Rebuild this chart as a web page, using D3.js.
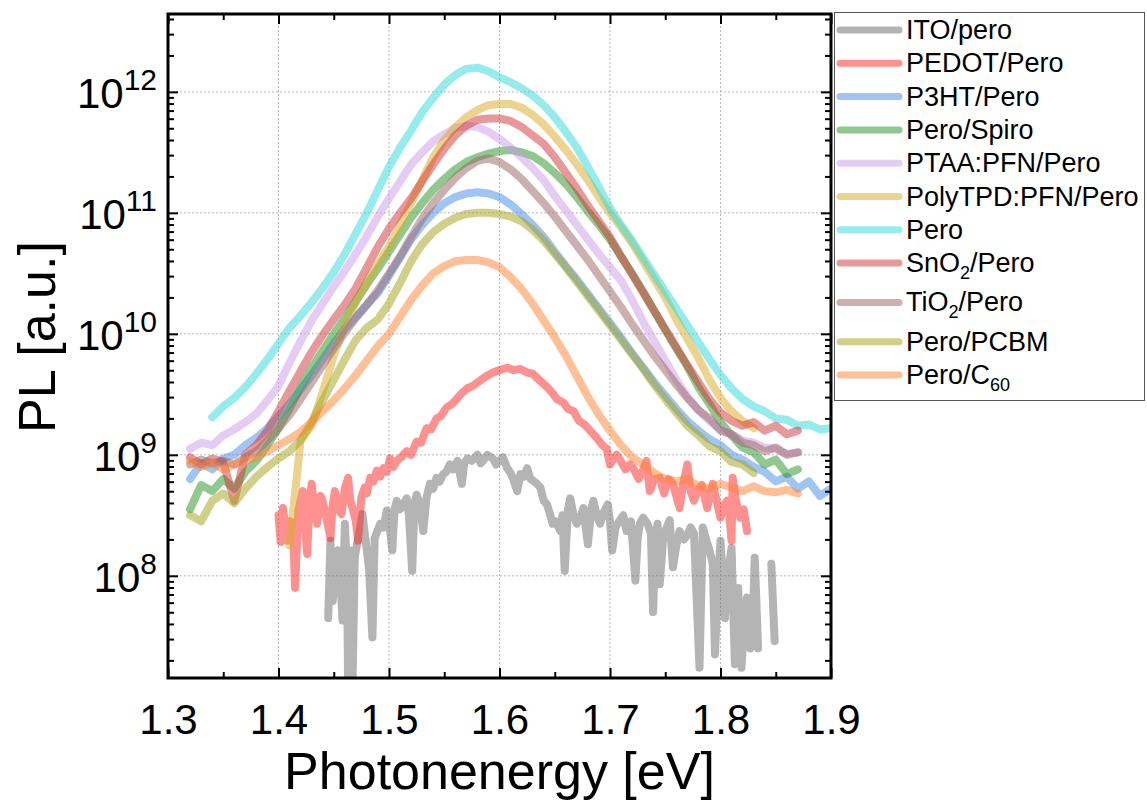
<!DOCTYPE html>
<html>
<head>
<meta charset="utf-8">
<script src="https://cdnjs.cloudflare.com/ajax/libs/d3/7.8.5/d3.min.js"></script>
<style>
body { margin: 0; background: #fff; }
svg { font-family: "Liberation Sans", Arial, sans-serif; }
</style>
</head>
<body>
<script>
// photon energy grid (eV) used by the smooth spectra
var energy = [1.32, 1.33, 1.34, 1.35, 1.36, 1.37, 1.38, 1.39, 1.40, 1.41,
  1.42, 1.43, 1.44, 1.45, 1.46, 1.47, 1.48, 1.49, 1.50, 1.51,
  1.52, 1.53, 1.54, 1.55, 1.56, 1.57, 1.58, 1.59, 1.60, 1.61,
  1.62, 1.63, 1.64, 1.65, 1.66, 1.67, 1.68, 1.69, 1.70, 1.71,
  1.72, 1.73, 1.74, 1.75, 1.76, 1.77, 1.78, 1.79, 1.80, 1.81,
  1.82, 1.83, 1.84, 1.85, 1.86, 1.87, 1.88, 1.89, 1.90];

// PL, stored as log10(PL); null = no data at that energy
var p3ht = [8.80, 8.93, 8.88, 8.97, 9.00, 9.08, 9.14, 9.22, 9.32, 9.42,
  9.54, 9.66, 9.79, 9.92, 10.04, 10.14, 10.24, 10.34, 10.48, 10.63,
  10.78, 10.90, 11.00, 11.08, 11.13, 11.16, 11.17, 11.16, 11.13, 11.07,
  10.99, 10.90, 10.80, 10.68, 10.56, 10.45, 10.33, 10.21, 10.09, 9.97,
  9.84, 9.72, 9.60, 9.49, 9.38, 9.28, 9.20, 9.13, 9.08, 9.00,
  8.96, 8.90, 8.86, 8.78, 8.82, 8.72, 8.78, 8.66, 8.72];
var spiro = [8.55, 8.75, 8.70, 8.80, 8.72, 8.86, 8.95, 9.08, 9.22, 9.38,
  9.56, 9.72, 9.86, 10.00, 10.13, 10.27, 10.41, 10.54, 10.68, 10.82,
  10.96, 11.08, 11.19, 11.28, 11.36, 11.42, 11.46, 11.49, 11.51, 11.52,
  11.50, 11.47, 11.41, 11.33, 11.24, 11.13, 11.01, 10.90, 10.78, 10.64,
  10.50, 10.35, 10.19, 10.03, 9.88, 9.73, 9.56, 9.42, 9.27, 9.16,
  9.06, 9.02, 8.92, 8.96, 8.84, 8.88, null, null, null];
var ptaa = [9.05, 9.10, 9.08, 9.16, 9.21, 9.27, 9.34, 9.45, 9.57, 9.76,
  9.94, 10.11, 10.25, 10.39, 10.52, 10.66, 10.81, 10.97, 11.12, 11.26,
  11.40, 11.50, 11.59, 11.65, 11.70, 11.72, 11.71, 11.67, 11.61, 11.54,
  11.46, 11.37, 11.27, 11.14, 11.02, 10.90, 10.78, 10.66, 10.55, 10.44,
  10.28, 10.10, 9.94, 9.78, 9.62, 9.48, 9.37, 9.28, 9.21, 9.17,
  9.12, 9.10, 9.06, 9.05, 9.01, 9.02, null, null, null];
var polyTPD = [null, null, null, null, null, null, null, null, null, 8.25,
  9.12, 9.24, 9.52, 9.82, 10.07, 10.26, 10.43, 10.58, 10.72, 10.90,
  11.08, 11.27, 11.46, 11.60, 11.71, 11.79, 11.85, 11.89, 11.90, 11.90,
  11.87, 11.81, 11.73, 11.63, 11.52, 11.40, 11.27, 11.13, 11.00, 10.88,
  10.75, 10.60, 10.45, 10.30, 10.12, 9.96, 9.80, 9.62, 9.47, 9.36,
  9.28, 9.22, null, null, null, null, null, null, null];
var pero = [null, null, 9.31, 9.40, 9.47, 9.56, 9.67, 9.79, 9.92, 10.05,
  10.15, 10.26, 10.38, 10.51, 10.66, 10.83, 11.00, 11.19, 11.38, 11.54,
  11.68, 11.83, 11.95, 12.06, 12.14, 12.19, 12.20, 12.17, 12.12, 12.08,
  12.03, 11.97, 11.89, 11.79, 11.67, 11.54, 11.38, 11.21, 11.04, 10.90,
  10.77, 10.63, 10.49, 10.35, 10.21, 10.07, 9.93, 9.79, 9.66, 9.55,
  9.46, 9.40, 9.36, 9.30, 9.29, 9.24, 9.25, 9.21, 9.22];
var snO2 = [8.98, 8.92, 8.97, 8.94, 8.62, 9.00, 9.08, 9.20, 9.36, 9.53,
  9.69, 9.85, 9.99, 10.12, 10.24, 10.38, 10.55, 10.72, 10.87, 11.00,
  11.12, 11.26, 11.40, 11.53, 11.64, 11.72, 11.77, 11.78, 11.78, 11.76,
  11.71, 11.64, 11.57, 11.46, 11.33, 11.20, 11.06, 10.93, 10.80, 10.64,
  10.49, 10.34, 10.19, 10.04, 9.89, 9.74, 9.60, 9.46, 9.35, 9.28,
  9.24, 9.27, 9.20, 9.24, 9.17, 9.20, null, null, null];
var tiO2 = [8.92, 8.96, 8.93, 8.95, 8.92, 8.98, 9.03, 9.12, 9.22, 9.33,
  9.46, 9.60, 9.74, 9.88, 10.01, 10.13, 10.24, 10.36, 10.50, 10.64,
  10.80, 10.95, 11.08, 11.19, 11.29, 11.37, 11.43, 11.45, 11.42, 11.36,
  11.28, 11.18, 11.08, 10.97, 10.85, 10.73, 10.61, 10.48, 10.35, 10.22,
  10.08, 9.95, 9.82, 9.70, 9.58, 9.47, 9.37, 9.30, 9.20, 9.17,
  9.10, 9.08, 9.03, 9.06, 9.00, 9.02, null, null, null];
var pcbm = [8.50, 8.45, 8.62, 8.68, 8.60, 8.72, 8.82, 8.90, 8.97, 9.03,
  9.12, 9.27, 9.45, 9.62, 9.79, 9.95, 10.05, 10.12, 10.25, 10.42,
  10.60, 10.74, 10.84, 10.91, 10.96, 10.99, 11.00, 11.00, 10.99, 10.97,
  10.93, 10.86, 10.77, 10.66, 10.55, 10.43, 10.31, 10.19, 10.07, 9.95,
  9.83, 9.71, 9.58, 9.46, 9.35, 9.24, 9.16, 9.07, 9.03, 8.94,
  8.92, 8.85, null, null, null, null, null, null, null];
var c60 = [8.95, 8.90, 8.93, 8.88, 8.92, 8.95, 8.98, 9.03, 9.08, 9.13,
  9.19, 9.27, 9.36, 9.45, 9.55, 9.66, 9.78, 9.90, 10.00, 10.14,
  10.28, 10.40, 10.50, 10.56, 10.60, 10.61, 10.61, 10.59, 10.55, 10.47,
  10.37, 10.25, 10.11, 9.97, 9.82, 9.65, 9.48, 9.33, 9.20, 9.08,
  8.98, 8.92, 8.85, 8.80, 8.78, 8.80, 8.74, 8.72, 8.76, 8.73,
  8.70, 8.74, 8.70, 8.69, 8.71, 8.68, null, null, null];

// noisy spectra: [energy eV, log10(PL)]
var pedot = [[1.400,8.50],[1.402,8.28],[1.404,8.56],[1.408,8.29],[1.411,8.45],[1.413,8.43],[1.415,7.90],[1.418,8.54],
  [1.422,8.70],[1.424,8.40],[1.426,8.18],[1.428,8.60],[1.430,8.76],[1.433,8.50],[1.435,8.43],[1.438,8.66],[1.440,8.62],
  [1.444,8.45],[1.447,8.31],[1.449,8.58],[1.451,8.70],[1.454,8.55],[1.457,8.51],[1.460,8.72],[1.463,8.81],[1.465,8.62],
  [1.467,8.56],[1.470,8.45],[1.472,8.29],[1.475,8.65],[1.478,8.73],[1.480,8.68],[1.483,8.81],[1.486,8.78],[1.489,8.87],
  [1.492,8.82],[1.495,8.89],[1.498,8.86],[1.501,8.97],[1.504,8.90],[1.507,8.95],[1.511,8.98],[1.516,9.03],[1.520,9.00],
  [1.525,9.11],[1.529,9.10],[1.534,9.22],[1.538,9.21],[1.543,9.30],[1.547,9.32],[1.552,9.39],[1.557,9.42],[1.562,9.47],
  [1.566,9.51],[1.571,9.55],[1.576,9.57],[1.582,9.61],[1.588,9.65],[1.594,9.68],[1.600,9.70],[1.607,9.72],[1.613,9.70],
  [1.619,9.71],[1.625,9.68],[1.630,9.67],[1.637,9.61],[1.643,9.56],[1.648,9.51],[1.652,9.46],[1.658,9.43],[1.662,9.38],
  [1.667,9.36],[1.672,9.28],[1.677,9.25],[1.682,9.20],[1.688,9.14],[1.693,9.08],[1.697,9.05],[1.700,8.92],[1.702,8.95],
  [1.706,9.00],[1.709,8.96],[1.714,8.88],[1.718,8.92],[1.721,8.89],[1.726,8.80],[1.730,8.88],[1.733,8.95],[1.736,8.70],
  [1.740,8.80],[1.745,8.81],[1.749,8.68],[1.753,8.80],[1.757,8.76],[1.760,8.66],[1.763,8.56],[1.766,8.75],[1.770,8.92],
  [1.773,8.70],[1.776,8.62],[1.779,8.70],[1.783,8.75],[1.788,8.56],[1.791,8.68],[1.793,8.76],[1.797,8.60],[1.800,8.48],
  [1.803,8.58],[1.806,8.62],[1.808,8.50],[1.810,8.29],[1.811,8.81],[1.814,8.62],[1.818,8.48],[1.821,8.55],[1.824,8.37]];
var ito = [[1.445,7.65],[1.447,8.29],[1.449,7.79],[1.452,8.10],[1.454,8.21],[1.456,7.95],[1.458,7.63],[1.460,8.43],
  [1.462,8.05],[1.463,7.10],[1.465,8.21],[1.467,7.10],[1.469,8.15],[1.471,8.26],[1.474,8.40],[1.476,8.51],[1.478,8.35],
  [1.480,8.21],[1.482,8.05],[1.485,7.49],[1.487,8.31],[1.490,8.38],[1.492,8.43],[1.495,8.40],[1.498,8.54],[1.500,8.45],
  [1.503,8.21],[1.505,8.55],[1.507,8.62],[1.510,8.55],[1.513,8.59],[1.516,8.64],[1.518,8.50],[1.521,8.04],[1.523,8.60],
  [1.525,8.67],[1.528,8.58],[1.531,8.37],[1.534,8.65],[1.537,8.76],[1.540,8.72],[1.543,8.81],[1.546,8.78],[1.549,8.84],
  [1.552,8.86],[1.555,8.92],[1.558,8.88],[1.562,8.95],[1.564,8.85],[1.566,8.76],[1.568,8.93],[1.571,8.97],[1.575,8.95],
  [1.580,9.00],[1.583,8.93],[1.585,8.95],[1.589,9.00],[1.594,8.97],[1.597,8.92],[1.600,8.95],[1.603,8.98],[1.607,8.89],
  [1.610,8.85],[1.612,8.81],[1.616,8.70],[1.619,8.84],[1.622,8.82],[1.625,8.89],[1.628,8.80],[1.630,8.79],[1.634,8.76],
  [1.637,8.73],[1.640,8.62],[1.643,8.59],[1.646,8.50],[1.648,8.43],[1.651,8.45],[1.655,8.37],[1.657,8.50],[1.659,8.04],
  [1.662,8.55],[1.664,8.64],[1.667,8.50],[1.670,8.43],[1.673,8.48],[1.676,8.56],[1.678,8.40],[1.680,8.26],[1.683,8.55],
  [1.685,8.62],[1.688,8.50],[1.691,8.43],[1.694,8.52],[1.698,8.59],[1.700,8.45],[1.702,8.21],[1.705,8.40],[1.709,8.46],
  [1.712,8.50],[1.715,8.37],[1.719,8.45],[1.723,7.96],[1.725,8.30],[1.727,8.43],[1.730,8.48],[1.734,8.43],[1.737,8.35],
  [1.739,7.70],[1.741,8.30],[1.743,8.43],[1.745,7.93],[1.748,8.30],[1.750,8.37],[1.754,8.46],[1.757,8.07],[1.760,8.25],
  [1.763,8.37],[1.767,8.30],[1.770,8.34],[1.773,8.40],[1.776,8.35],[1.781,7.24],[1.784,8.40],[1.787,8.30],[1.790,8.21],
  [1.793,8.10],[1.795,7.35],[1.798,8.00],[1.800,8.29],[1.802,8.00],[1.804,7.65],[1.807,8.05],[1.810,8.23],[1.813,7.27],
  [1.816,7.90],[1.819,7.24],[1.822,7.70],[1.824,7.82],[1.827,7.40],[1.829,7.55],[1.831,8.15],[1.834,7.40],[1.840,null],
  [1.846,8.10],[1.849,7.46]];

var labels = ["ITO/pero", "PEDOT/Pero", "P3HT/Pero", "Pero/Spiro", "PTAA:PFN/Pero", "PolyTPD:PFN/Pero",
  "Pero", "SnO_2/Pero", "TiO_2/Pero", "Pero/PCBM", "Pero/C_60"];
var colors = ["#6a6a6a", "#ff2222", "#4189e9", "#219121", "#c999e9", "#d9a921",
  "#2dd9d9", "#d13131", "#996161", "#a1a115", "#ff8131"];

var xMajor = [1.3, 1.4, 1.5, 1.6, 1.7, 1.8, 1.9];
var xMinor = [1.35, 1.45, 1.55, 1.65, 1.75, 1.85];
var yMajor = [1e8, 1e9, 1e10, 1e11, 1e12];

function onGrid(vals) { return energy.map(function(e, i) { return [e, vals[i]]; }); }
var curves = [ito, pedot, onGrid(p3ht), onGrid(spiro), onGrid(ptaa), onGrid(polyTPD),
  onGrid(pero), onGrid(snO2), onGrid(tiO2), onGrid(pcbm), onGrid(c60)];

var w = 1147, h = 805;
var pL = 168, pR = 831, pT = 14, pB = 678;

var svg = d3.select("body").append("svg").attr("width", w).attr("height", h);

var x = d3.scaleLinear().domain([1.3, 1.9]).range([pL, pR]);
var y = d3.scaleLog().domain([1.43e7, 4.4e12]).range([pB, pT]);

// minor ticks on the log axis: 2..9 x 10^n inside the domain
var yMinor = [];
for (var n = 7; n <= 12; n++) {
  for (var k = 2; k <= 9; k++) {
    var v = k * Math.pow(10, n);
    if (v > y.domain()[0] && v < y.domain()[1]) yMinor.push(v);
  }
}

// dotted grid
var grid = svg.append("g").attr("stroke", "#b8b8b8").attr("stroke-width", 1).attr("stroke-dasharray", "2,2");
grid.selectAll(".gx").data(xMajor.slice(1, -1)).enter().append("line")
  .attr("x1", function(d) { return x(d); }).attr("x2", function(d) { return x(d); })
  .attr("y1", pT).attr("y2", pB);
grid.selectAll(".gy").data(yMajor).enter().append("line")
  .attr("y1", function(d) { return y(d); }).attr("y2", function(d) { return y(d); })
  .attr("x1", pL).attr("x2", pR);

svg.append("clipPath").attr("id", "plot").append("rect")
  .attr("x", pL).attr("y", pT).attr("width", pR - pL).attr("height", pB - pT);

var line = d3.line()
  .defined(function(d) { return d[1] != null; })
  .x(function(d) { return x(d[0]); })
  .y(function(d) { return y(Math.pow(10, d[1])); });

svg.append("g").attr("clip-path", "url(#plot)")
  .selectAll("path").data(curves).enter().append("path")
  .attr("d", line)
  .attr("fill", "none")
  .attr("stroke", function(d, i) { return colors[i]; })
  .attr("stroke-opacity", 0.5)
  .attr("stroke-width", 8)
  .attr("stroke-linejoin", "round")
  .attr("stroke-linecap", "round");

// axes, ticks pointing inwards
function styleAxis(g) {
  g.select(".domain").remove();
  g.selectAll(".tick line").attr("stroke", "#000").attr("stroke-width", 2);
}
svg.append("g").attr("transform", "translate(0," + pB + ")")
  .call(d3.axisBottom(x).tickValues(xMajor).tickSize(-10).tickPadding(26).tickFormat(d3.format(".1f")))
  .call(styleAxis)
  .selectAll("text").attr("font-size", "42px").attr("fill", "#000")
  .attr("font-family", "Liberation Sans, Arial, sans-serif");
svg.append("g").attr("transform", "translate(0," + pB + ")")
  .call(d3.axisBottom(x).tickValues(xMinor).tickSize(-6).tickFormat("")).call(styleAxis);
svg.append("g").attr("transform", "translate(0," + pT + ")")
  .call(d3.axisTop(x).tickValues(xMajor).tickSize(-10).tickFormat("")).call(styleAxis);
svg.append("g").attr("transform", "translate(0," + pT + ")")
  .call(d3.axisTop(x).tickValues(xMinor).tickSize(-6).tickFormat("")).call(styleAxis);

var yAx = svg.append("g").attr("transform", "translate(" + pL + ",0)")
  .call(d3.axisLeft(y).tickValues(yMajor).tickSize(-10).tickPadding(11).tickFormat(""))
  .call(styleAxis);
yAx.selectAll(".tick text")
  .attr("font-family", "Liberation Sans, Arial, sans-serif").attr("fill", "#000")
  .attr("dy", null)
  .each(function(d) {
    var t = d3.select(this);
    t.append("tspan").attr("font-size", "42px").attr("dy", "16px").text("10");
    t.append("tspan").attr("font-size", "30px").attr("dy", "-18px").text(Math.round(Math.log10(d)));
  });
svg.append("g").attr("transform", "translate(" + pL + ",0)")
  .call(d3.axisLeft(y).tickValues(yMinor).tickSize(-6).tickFormat("")).call(styleAxis);
svg.append("g").attr("transform", "translate(" + pR + ",0)")
  .call(d3.axisRight(y).tickValues(yMajor).tickSize(-10).tickFormat("")).call(styleAxis);
svg.append("g").attr("transform", "translate(" + pR + ",0)")
  .call(d3.axisRight(y).tickValues(yMinor).tickSize(-6).tickFormat("")).call(styleAxis);

// frame
svg.append("rect").attr("x", pL).attr("y", pT)
  .attr("width", pR - pL).attr("height", pB - pT)
  .attr("fill", "none").attr("stroke", "#000").attr("stroke-width", 3);

// axis titles
svg.append("text").attr("x", (pL + pR) / 2).attr("y", 789)
  .attr("text-anchor", "middle").attr("font-size", "52px").text("Photonenergy [eV]");
svg.append("text").attr("transform", "translate(55,337) rotate(-90)")
  .attr("text-anchor", "middle").attr("font-size", "52px").text("PL [a.u.]");

// legend
var leg = svg.append("g");
leg.append("rect").attr("x", 834.5).attr("y", 12.5).attr("width", 310).attr("height", 388)
  .attr("fill", "#fff").attr("stroke", "#555").attr("stroke-width", 1);
var ly = 30;
labels.forEach(function(lab, i) {
  leg.append("line").attr("x1", 840).attr("x2", 899).attr("y1", ly).attr("y2", ly)
    .attr("stroke", colors[i]).attr("stroke-opacity", 0.5)
    .attr("stroke-width", 7).attr("stroke-linecap", "round");
  var t = leg.append("text").attr("x", 906).attr("y", ly + 9).attr("font-size", "27px");
  var parts = lab.split(/_(\d+)/);
  parts.forEach(function(p, j) {
    if (!p) return;
    if (j % 2 === 1) {
      t.append("tspan").attr("font-size", "18px").attr("dy", "7px").text(p);
    } else {
      t.append("tspan").attr("dy", j > 0 ? "-7px" : null).text(p);
    }
  });
  ly += 33.3 + (parts.length > 1 ? 6 : 0);
});
</script>
</body>
</html>
